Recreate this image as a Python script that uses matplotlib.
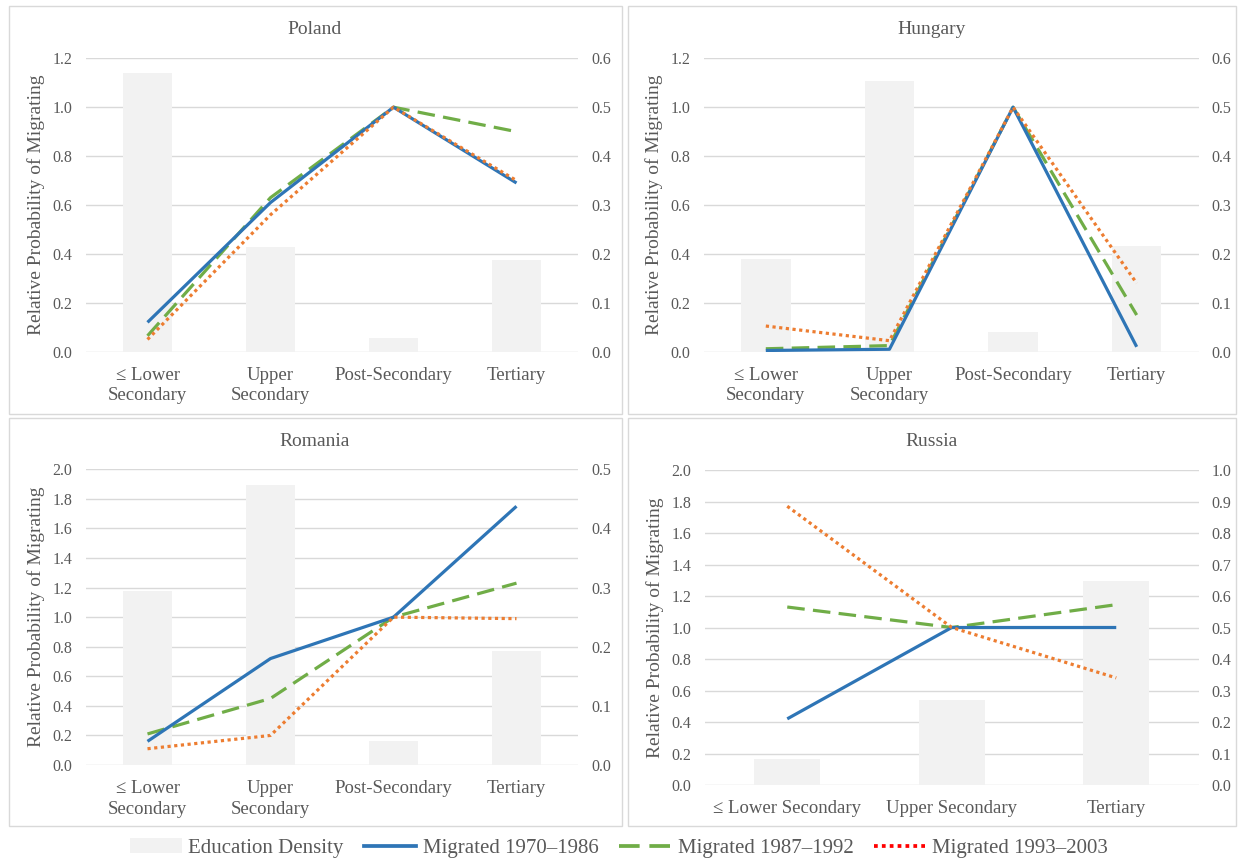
import matplotlib
matplotlib.use("Agg")
import matplotlib.pyplot as plt
from matplotlib.patches import Rectangle, Patch
from matplotlib.lines import Line2D
import numpy as np

# ---------------------------
# data
# ---------------------------
cats4 = ["\u2264 Lower\nSecondary", "Upper\nSecondary", "Post-Secondary", "Tertiary"]
cats_ru = ["\u2264 Lower Secondary", "Upper Secondary", "Tertiary"]

poland_density = [0.569, 0.215, 0.027, 0.187]
poland_1970 = [0.12, 0.61, 1.00, 0.69]
poland_1987 = [0.065, 0.63, 1.00, 0.90]
poland_1993 = [0.05, 0.56, 1.00, 0.70]

hungary_density = [0.189, 0.553, 0.041, 0.217]
hungary_1970 = [0.005, 0.01, 1.00, 0.02]
hungary_1987 = [0.012, 0.025, 1.00, 0.15]
hungary_1993 = [0.105, 0.045, 1.00, 0.28]

romania_density = [0.294, 0.473, 0.040, 0.193]
romania_1970 = [0.16, 0.72, 1.00, 1.75]
romania_1987 = [0.21, 0.45, 1.00, 1.23]
romania_1993 = [0.11, 0.20, 1.00, 0.99]

russia_density = [0.082, 0.270, 0.648]
russia_1970 = [0.42, 1.00, 1.00]
russia_1987 = [1.13, 1.00, 1.145]
russia_1993 = [1.77, 1.00, 0.68]

# ---------------------------
# style
# ---------------------------
plt.rcParams["font.family"] = ["Liberation Serif", "DejaVu Serif"]
TXT = "#595959"
GRID = "#D9D9D9"
BAR = "#F2F2F2"
BLUE = "#2E75B6"
GREEN = "#70AD47"
ORANGE = "#ED7D31"
LW = 2.3
DASH = (0, (5.5, 2.6))
DOT = (0, (1, 1.1))

W, H = 1238, 863
fig = plt.figure(figsize=(W / 100, H / 100), dpi=100)


def px_axes(x0, y0, x1, y1):
    return [x0 / W, 1 - y1 / H, (x1 - x0) / W, (y1 - y0) / H]


def panel(box, cats, dens, s1, s2, s3, lmax, lstep, rmax, rstep):
    ax = fig.add_axes(px_axes(*box))
    x = np.arange(len(cats))

    # grid layer (left scale)
    ax.set_ylim(0, lmax)
    ax.set_xlim(-0.5, len(cats) - 0.5)
    ax.set_yticks(np.arange(0, lmax + 1e-9, lstep))
    ax.yaxis.set_major_formatter(matplotlib.ticker.FormatStrFormatter("%.1f"))
    ax.grid(axis="y", color=GRID, lw=1)
    ax.set_xticks(x)
    ax.set_xticklabels(cats, fontsize=13.5, color=TXT, linespacing=1.25)
    ax.tick_params(axis="both", length=0, colors=TXT, labelsize=11.5)
    ax.tick_params(axis="y", pad=10)
    ax.tick_params(axis="x", pad=11, labelsize=13.5)
    ax.set_ylabel("Relative Probability of Migrating", fontsize=14, color=TXT, labelpad=5)
    for s in ax.spines.values():
        s.set_visible(False)

    # bars (right scale)
    ax2 = ax.twinx()
    ax2.bar(x, dens, width=0.4, color=BAR, zorder=1)
    ax2.set_ylim(0, rmax)
    ax2.set_yticks(np.arange(0, rmax + 1e-9, rstep))
    ax2.yaxis.set_major_formatter(matplotlib.ticker.FormatStrFormatter("%.1f"))
    ax2.tick_params(axis="y", length=0, colors=TXT, labelsize=11.5, pad=9.5)
    for s in ax2.spines.values():
        s.set_visible(False)

    # lines (left scale again, on top)
    ax3 = ax.twinx()
    ax3.set_ylim(0, lmax)
    ax3.set_yticks([])
    for s in ax3.spines.values():
        s.set_visible(False)
    ax3.plot(x, s1, color=BLUE, lw=LW, solid_capstyle="butt", zorder=3)
    ax3.plot(x, s2, color=GREEN, lw=LW, ls=DASH, zorder=2)
    ax3.plot(x, s3, color=ORANGE, lw=LW, ls=DOT, zorder=4)

    ax.set_zorder(1)
    ax2.set_zorder(2)
    ax3.set_zorder(3)
    ax2.patch.set_visible(False)
    ax3.patch.set_visible(False)
    return ax


# panel frames
for (x0, y0, x1, y1) in [(9, 6, 622, 414), (628, 6, 1236, 414),
                         (9, 418, 622, 826), (628, 418, 1236, 826)]:
    fig.patches.append(Rectangle((x0 / W, 1 - y1 / H), (x1 - x0) / W, (y1 - y0) / H,
                                 transform=fig.transFigure, fill=False,
                                 edgecolor=GRID, lw=1))

panel((86, 58.3, 578, 351.7), cats4, poland_density,
      poland_1970, poland_1987, poland_1993, 1.2, 0.2, 0.6, 0.1)
panel((704, 58.3, 1198.5, 351.7), cats4, hungary_density,
      hungary_1970, hungary_1987, hungary_1993, 1.2, 0.2, 0.6, 0.1)
panel((86, 469.3, 578, 765), cats4, romania_density,
      romania_1970, romania_1987, romania_1993, 2.0, 0.2, 0.5, 0.1)
panel((705, 470, 1198.5, 785), cats_ru, russia_density,
      russia_1970, russia_1987, russia_1993, 2.0, 0.2, 1.0, 0.1)

# titles
for name, cx, cy in [("Poland", 315, 30), ("Hungary", 932, 30),
                     ("Romania", 315, 441), ("Russia", 932, 441)]:
    fig.text(cx / W, 1 - cy / H, name, ha="center", va="center", fontsize=14, color=TXT)

# legend
handles = [
    Patch(facecolor=BAR, edgecolor="none"),
    Line2D([], [], color=BLUE, lw=LW + 0.4),
    Line2D([], [], color=GREEN, lw=LW + 0.4, ls=DASH),
    Line2D([], [], color="#FF0000", lw=LW + 0.4, ls=DOT),
]
labels = ["Education Density", "Migrated 1970\u20131986",
          "Migrated 1987\u20131992", "Migrated 1993\u20132003"]
fig.legend(handles, labels, loc="center", bbox_to_anchor=(0.5, 1 - 848 / H), ncol=4,
           frameon=False, fontsize=15, handlelength=2.5, handletextpad=0.3,
           columnspacing=1.0, labelcolor=TXT)

fig.savefig("out.png", dpi=100)
